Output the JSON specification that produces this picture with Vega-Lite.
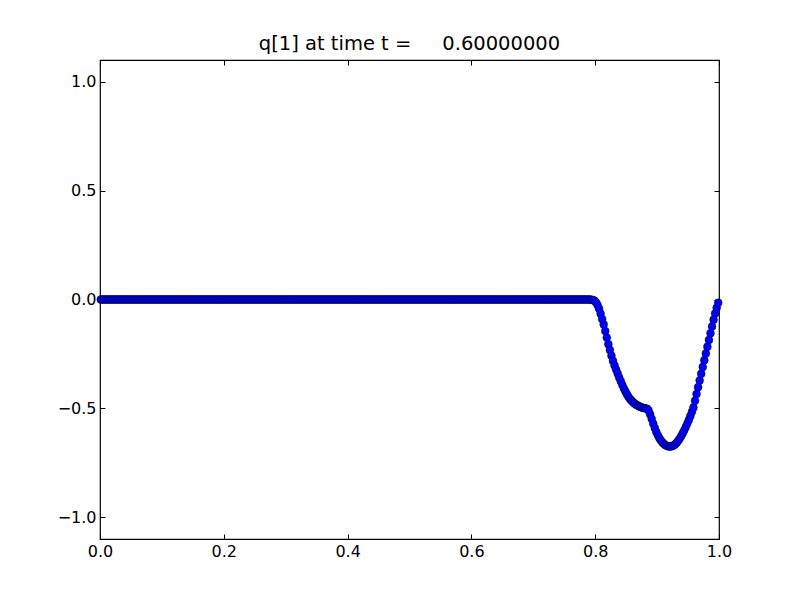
{
  "$schema": "https://vega.github.io/schema/vega-lite/v6.json",
  "autosize": "none",
  "width": 619,
  "height": 479,
  "padding": {"left": 100, "top": 60, "right": 81, "bottom": 61},
  "background": "white",
  "title": {"text": "q[1] at time t =\u00a0\u00a0\u00a0\u00a0 0.60000000", "font": "DejaVu Sans", "fontSize": 19.5, "fontWeight": "normal", "color": "black", "offset": 5, "anchor": "middle"},
  "config": {
    "view": {"stroke": "black", "strokeWidth": 1.2},
    "axis": {"domain": false, "grid": false, "tickColor": "black", "tickSize": -5, "tickWidth": 1, "labelFont": "DejaVu Sans", "labelFontSize": 16, "labelColor": "black", "labelFlush": false, "title": null}
  },
  "data": {"values": [
{"x":0.00125,"q":0},{"x":0.00375,"q":0},{"x":0.00625,"q":0},{"x":0.00875,"q":0},
{"x":0.01125,"q":0},{"x":0.01375,"q":0},{"x":0.01625,"q":0},{"x":0.01875,"q":0},
{"x":0.02125,"q":0},{"x":0.02375,"q":0},{"x":0.02625,"q":0},{"x":0.02875,"q":0},
{"x":0.03125,"q":0},{"x":0.03375,"q":0},{"x":0.03625,"q":0},{"x":0.03875,"q":0},
{"x":0.04125,"q":0},{"x":0.04375,"q":0},{"x":0.04625,"q":0},{"x":0.04875,"q":0},
{"x":0.05125,"q":0},{"x":0.05375,"q":0},{"x":0.05625,"q":0},{"x":0.05875,"q":0},
{"x":0.06125,"q":0},{"x":0.06375,"q":0},{"x":0.06625,"q":0},{"x":0.06875,"q":0},
{"x":0.07125,"q":0},{"x":0.07375,"q":0},{"x":0.07625,"q":0},{"x":0.07875,"q":0},
{"x":0.08125,"q":0},{"x":0.08375,"q":0},{"x":0.08625,"q":0},{"x":0.08875,"q":0},
{"x":0.09125,"q":0},{"x":0.09375,"q":0},{"x":0.09625,"q":0},{"x":0.09875,"q":0},
{"x":0.10125,"q":0},{"x":0.10375,"q":0},{"x":0.10625,"q":0},{"x":0.10875,"q":0},
{"x":0.11125,"q":0},{"x":0.11375,"q":0},{"x":0.11625,"q":0},{"x":0.11875,"q":0},
{"x":0.12125,"q":0},{"x":0.12375,"q":0},{"x":0.12625,"q":0},{"x":0.12875,"q":0},
{"x":0.13125,"q":0},{"x":0.13375,"q":0},{"x":0.13625,"q":0},{"x":0.13875,"q":0},
{"x":0.14125,"q":0},{"x":0.14375,"q":0},{"x":0.14625,"q":0},{"x":0.14875,"q":0},
{"x":0.15125,"q":0},{"x":0.15375,"q":0},{"x":0.15625,"q":0},{"x":0.15875,"q":0},
{"x":0.16125,"q":0},{"x":0.16375,"q":0},{"x":0.16625,"q":0},{"x":0.16875,"q":0},
{"x":0.17125,"q":0},{"x":0.17375,"q":0},{"x":0.17625,"q":0},{"x":0.17875,"q":0},
{"x":0.18125,"q":0},{"x":0.18375,"q":0},{"x":0.18625,"q":0},{"x":0.18875,"q":0},
{"x":0.19125,"q":0},{"x":0.19375,"q":0},{"x":0.19625,"q":0},{"x":0.19875,"q":0},
{"x":0.20125,"q":0},{"x":0.20375,"q":0},{"x":0.20625,"q":0},{"x":0.20875,"q":0},
{"x":0.21125,"q":0},{"x":0.21375,"q":0},{"x":0.21625,"q":0},{"x":0.21875,"q":0},
{"x":0.22125,"q":0},{"x":0.22375,"q":0},{"x":0.22625,"q":0},{"x":0.22875,"q":0},
{"x":0.23125,"q":0},{"x":0.23375,"q":0},{"x":0.23625,"q":0},{"x":0.23875,"q":0},
{"x":0.24125,"q":0},{"x":0.24375,"q":0},{"x":0.24625,"q":0},{"x":0.24875,"q":0},
{"x":0.25125,"q":0},{"x":0.25375,"q":0},{"x":0.25625,"q":0},{"x":0.25875,"q":0},
{"x":0.26125,"q":0},{"x":0.26375,"q":0},{"x":0.26625,"q":0},{"x":0.26875,"q":0},
{"x":0.27125,"q":0},{"x":0.27375,"q":0},{"x":0.27625,"q":0},{"x":0.27875,"q":0},
{"x":0.28125,"q":0},{"x":0.28375,"q":0},{"x":0.28625,"q":0},{"x":0.28875,"q":0},
{"x":0.29125,"q":0},{"x":0.29375,"q":0},{"x":0.29625,"q":0},{"x":0.29875,"q":0},
{"x":0.30125,"q":0},{"x":0.30375,"q":0},{"x":0.30625,"q":0},{"x":0.30875,"q":0},
{"x":0.31125,"q":0},{"x":0.31375,"q":0},{"x":0.31625,"q":0},{"x":0.31875,"q":0},
{"x":0.32125,"q":0},{"x":0.32375,"q":0},{"x":0.32625,"q":0},{"x":0.32875,"q":0},
{"x":0.33125,"q":0},{"x":0.33375,"q":0},{"x":0.33625,"q":0},{"x":0.33875,"q":0},
{"x":0.34125,"q":0},{"x":0.34375,"q":0},{"x":0.34625,"q":0},{"x":0.34875,"q":0},
{"x":0.35125,"q":0},{"x":0.35375,"q":0},{"x":0.35625,"q":0},{"x":0.35875,"q":0},
{"x":0.36125,"q":0},{"x":0.36375,"q":0},{"x":0.36625,"q":0},{"x":0.36875,"q":0},
{"x":0.37125,"q":0},{"x":0.37375,"q":0},{"x":0.37625,"q":0},{"x":0.37875,"q":0},
{"x":0.38125,"q":0},{"x":0.38375,"q":0},{"x":0.38625,"q":0},{"x":0.38875,"q":0},
{"x":0.39125,"q":0},{"x":0.39375,"q":0},{"x":0.39625,"q":0},{"x":0.39875,"q":0},
{"x":0.40125,"q":0},{"x":0.40375,"q":0},{"x":0.40625,"q":0},{"x":0.40875,"q":0},
{"x":0.41125,"q":0},{"x":0.41375,"q":0},{"x":0.41625,"q":0},{"x":0.41875,"q":0},
{"x":0.42125,"q":0},{"x":0.42375,"q":0},{"x":0.42625,"q":0},{"x":0.42875,"q":0},
{"x":0.43125,"q":0},{"x":0.43375,"q":0},{"x":0.43625,"q":0},{"x":0.43875,"q":0},
{"x":0.44125,"q":0},{"x":0.44375,"q":0},{"x":0.44625,"q":0},{"x":0.44875,"q":0},
{"x":0.45125,"q":0},{"x":0.45375,"q":0},{"x":0.45625,"q":0},{"x":0.45875,"q":0},
{"x":0.46125,"q":0},{"x":0.46375,"q":0},{"x":0.46625,"q":0},{"x":0.46875,"q":0},
{"x":0.47125,"q":0},{"x":0.47375,"q":0},{"x":0.47625,"q":0},{"x":0.47875,"q":0},
{"x":0.48125,"q":0},{"x":0.48375,"q":0},{"x":0.48625,"q":0},{"x":0.48875,"q":0},
{"x":0.49125,"q":0},{"x":0.49375,"q":0},{"x":0.49625,"q":0},{"x":0.49875,"q":0},
{"x":0.50125,"q":0},{"x":0.50375,"q":0},{"x":0.50625,"q":0},{"x":0.50875,"q":0},
{"x":0.51125,"q":0},{"x":0.51375,"q":0},{"x":0.51625,"q":0},{"x":0.51875,"q":0},
{"x":0.52125,"q":0},{"x":0.52375,"q":0},{"x":0.52625,"q":0},{"x":0.52875,"q":0},
{"x":0.53125,"q":0},{"x":0.53375,"q":0},{"x":0.53625,"q":0},{"x":0.53875,"q":0},
{"x":0.54125,"q":0},{"x":0.54375,"q":0},{"x":0.54625,"q":0},{"x":0.54875,"q":0},
{"x":0.55125,"q":0},{"x":0.55375,"q":0},{"x":0.55625,"q":0},{"x":0.55875,"q":0},
{"x":0.56125,"q":0},{"x":0.56375,"q":0},{"x":0.56625,"q":0},{"x":0.56875,"q":0},
{"x":0.57125,"q":0},{"x":0.57375,"q":0},{"x":0.57625,"q":0},{"x":0.57875,"q":0},
{"x":0.58125,"q":0},{"x":0.58375,"q":0},{"x":0.58625,"q":0},{"x":0.58875,"q":0},
{"x":0.59125,"q":0},{"x":0.59375,"q":0},{"x":0.59625,"q":0},{"x":0.59875,"q":0},
{"x":0.60125,"q":0},{"x":0.60375,"q":0},{"x":0.60625,"q":0},{"x":0.60875,"q":0},
{"x":0.61125,"q":0},{"x":0.61375,"q":0},{"x":0.61625,"q":0},{"x":0.61875,"q":0},
{"x":0.62125,"q":0},{"x":0.62375,"q":0},{"x":0.62625,"q":0},{"x":0.62875,"q":0},
{"x":0.63125,"q":0},{"x":0.63375,"q":0},{"x":0.63625,"q":0},{"x":0.63875,"q":0},
{"x":0.64125,"q":0},{"x":0.64375,"q":0},{"x":0.64625,"q":0},{"x":0.64875,"q":0},
{"x":0.65125,"q":0},{"x":0.65375,"q":0},{"x":0.65625,"q":0},{"x":0.65875,"q":0},
{"x":0.66125,"q":0},{"x":0.66375,"q":0},{"x":0.66625,"q":0},{"x":0.66875,"q":0},
{"x":0.67125,"q":0},{"x":0.67375,"q":0},{"x":0.67625,"q":0},{"x":0.67875,"q":0},
{"x":0.68125,"q":0},{"x":0.68375,"q":0},{"x":0.68625,"q":0},{"x":0.68875,"q":0},
{"x":0.69125,"q":0},{"x":0.69375,"q":0},{"x":0.69625,"q":0},{"x":0.69875,"q":0},
{"x":0.70125,"q":0},{"x":0.70375,"q":0},{"x":0.70625,"q":0},{"x":0.70875,"q":0},
{"x":0.71125,"q":0},{"x":0.71375,"q":0},{"x":0.71625,"q":0},{"x":0.71875,"q":0},
{"x":0.72125,"q":0},{"x":0.72375,"q":0},{"x":0.72625,"q":0},{"x":0.72875,"q":0},
{"x":0.73125,"q":0},{"x":0.73375,"q":0},{"x":0.73625,"q":0},{"x":0.73875,"q":0},
{"x":0.74125,"q":0},{"x":0.74375,"q":0},{"x":0.74625,"q":0},{"x":0.74875,"q":0},
{"x":0.75125,"q":0},{"x":0.75375,"q":0},{"x":0.75625,"q":0},{"x":0.75875,"q":0},
{"x":0.76125,"q":0},{"x":0.76375,"q":0},{"x":0.76625,"q":0},{"x":0.76875,"q":0},
{"x":0.77125,"q":0},{"x":0.77375,"q":0},{"x":0.77625,"q":0},{"x":0.77875,"q":0},
{"x":0.78125,"q":0},{"x":0.78375,"q":0},{"x":0.78625,"q":0},{"x":0.78875,"q":0},
{"x":0.79125,"q":0},{"x":0.79375,"q":-0.001},
{"x":0.79625,"q":-0.002},{"x":0.79875,"q":-0.006},{"x":0.80125,"q":-0.013},{"x":0.80375,"q":-0.025},
{"x":0.80625,"q":-0.042},{"x":0.80875,"q":-0.065},{"x":0.81125,"q":-0.09},{"x":0.81375,"q":-0.115},
{"x":0.81625,"q":-0.145},{"x":0.81875,"q":-0.175},{"x":0.82125,"q":-0.205},{"x":0.82375,"q":-0.232},
{"x":0.82625,"q":-0.258},{"x":0.82875,"q":-0.282},{"x":0.83125,"q":-0.303},{"x":0.83375,"q":-0.322},
{"x":0.83625,"q":-0.34},{"x":0.83875,"q":-0.358},{"x":0.84125,"q":-0.375},{"x":0.84375,"q":-0.392},
{"x":0.84625,"q":-0.408},{"x":0.84875,"q":-0.422},{"x":0.85125,"q":-0.435},{"x":0.85375,"q":-0.447},
{"x":0.85625,"q":-0.457},{"x":0.85875,"q":-0.465},{"x":0.86125,"q":-0.472},{"x":0.86375,"q":-0.478},
{"x":0.86625,"q":-0.483},{"x":0.86875,"q":-0.487},{"x":0.87125,"q":-0.491},{"x":0.87375,"q":-0.494},
{"x":0.87625,"q":-0.497},{"x":0.87875,"q":-0.499},{"x":0.88125,"q":-0.5},{"x":0.88375,"q":-0.502},
{"x":0.88625,"q":-0.51},{"x":0.88875,"q":-0.527},{"x":0.89125,"q":-0.548},{"x":0.89375,"q":-0.57},
{"x":0.89625,"q":-0.59},{"x":0.89875,"q":-0.608},{"x":0.90125,"q":-0.624},{"x":0.90375,"q":-0.637},
{"x":0.90625,"q":-0.648},{"x":0.90875,"q":-0.657},{"x":0.91125,"q":-0.664},{"x":0.91375,"q":-0.669},
{"x":0.91625,"q":-0.673},{"x":0.91875,"q":-0.675},{"x":0.92125,"q":-0.675},{"x":0.92375,"q":-0.674},
{"x":0.92625,"q":-0.671},{"x":0.92875,"q":-0.666},{"x":0.93125,"q":-0.659},{"x":0.93375,"q":-0.65},
{"x":0.93625,"q":-0.64},{"x":0.93875,"q":-0.628},{"x":0.94125,"q":-0.615},{"x":0.94375,"q":-0.601},
{"x":0.94625,"q":-0.586},{"x":0.94875,"q":-0.57},{"x":0.95125,"q":-0.553},{"x":0.95375,"q":-0.535},
{"x":0.95625,"q":-0.516},{"x":0.95875,"q":-0.496},{"x":0.96125,"q":-0.465},{"x":0.96375,"q":-0.434},
{"x":0.96625,"q":-0.403},{"x":0.96875,"q":-0.372},{"x":0.97125,"q":-0.341},{"x":0.97375,"q":-0.31},
{"x":0.97625,"q":-0.279},{"x":0.97875,"q":-0.248},{"x":0.98125,"q":-0.217},{"x":0.98375,"q":-0.186},
{"x":0.98625,"q":-0.155},{"x":0.98875,"q":-0.124},{"x":0.99125,"q":-0.093},{"x":0.99375,"q":-0.064},
{"x":0.99625,"q":-0.038},{"x":0.99875,"q":-0.015}
  ]},
  "resolve": {"axis": {"x": "independent", "y": "independent"}},
  "layer": [
    {
      "mark": {"type": "point", "shape": "circle", "filled": true, "fill": "#0000ff", "stroke": "black", "strokeWidth": 0.45, "size": 62, "opacity": 1, "clip": false},
      "encoding": {
        "x": {"field": "x", "type": "quantitative", "scale": {"domain": [0, 1], "nice": false, "zero": false}, "axis": {"orient": "bottom", "values": [0, 0.2, 0.4, 0.6, 0.8, 1.0], "format": ".1f", "labelPadding": 9}},
        "y": {"field": "q", "type": "quantitative", "scale": {"domain": [-1.1, 1.1], "nice": false, "zero": false}, "axis": {"orient": "left", "values": [-1, -0.5, 0, 0.5, 1], "format": ".1f", "labelPadding": 9}}
      }
    },
    {
      "mark": {"type": "point", "opacity": 0},
      "encoding": {
        "x": {"field": "x", "type": "quantitative", "axis": {"orient": "top", "values": [0, 0.2, 0.4, 0.6, 0.8, 1.0], "labels": false}},
        "y": {"field": "q", "type": "quantitative", "axis": {"orient": "right", "values": [-1, -0.5, 0, 0.5, 1], "labels": false}}
      }
    }
  ]
}
